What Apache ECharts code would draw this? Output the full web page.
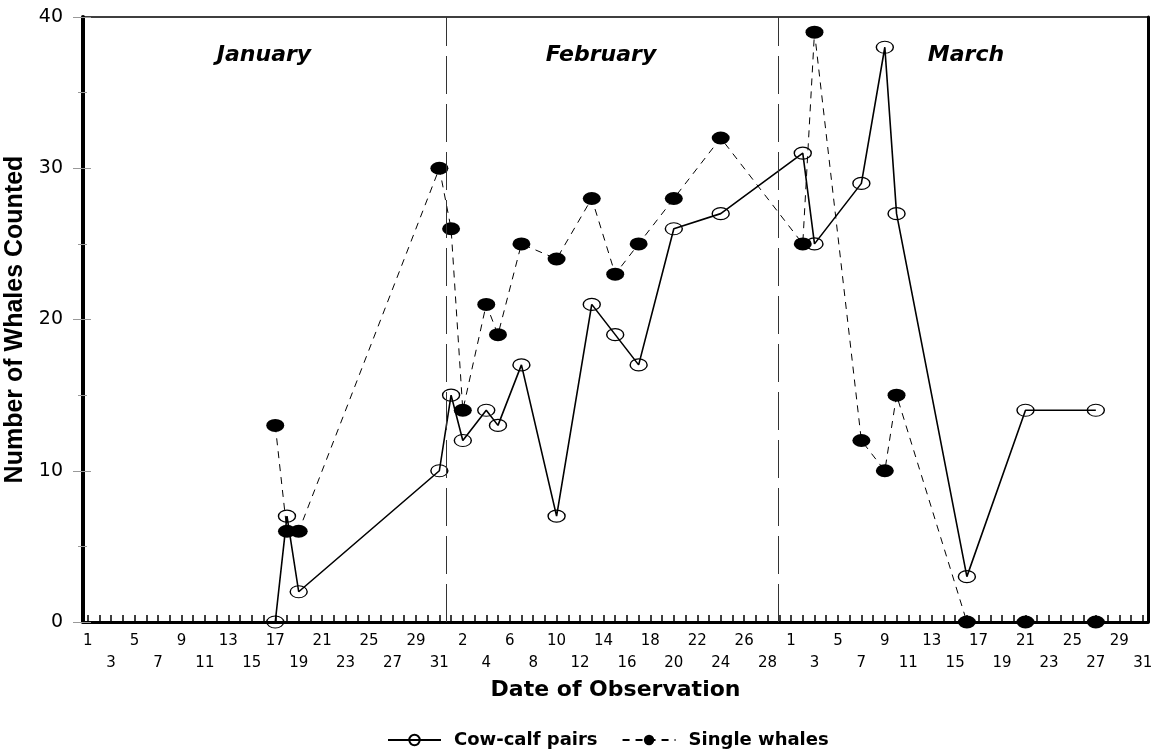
<!DOCTYPE html>
<html>
<head>
<meta charset="utf-8">
<script src="https://cdn.jsdelivr.net/npm/echarts@6/dist/echarts.min.js"></script>
<style>
html,body{margin:0;padding:0;background:#fff;}
#chart{width:1154px;height:752px;}
</style>
</head>
<body>
<div id="chart"></div>
<script>
// ---- data ----
const monthNames = ['January', 'February', 'March'];
const monthAbbr = ['Jan', 'Feb', 'Mar'];
const monthLengths = [31, 29, 31];
const obsDates = ['Jan 17','Jan 18','Jan 19','Jan 31','Feb 1','Feb 2','Feb 4','Feb 5','Feb 7','Feb 10',
  'Feb 13','Feb 15','Feb 17','Feb 20','Feb 24','Mar 2','Mar 3','Mar 7','Mar 9','Mar 10','Mar 16','Mar 21','Mar 27'];
const cowCalf = [0,7,2,10,15,12,14,13,17,7,21,19,17,26,27,31,25,29,38,27,3,14,14];
const singleWhales = [13,6,6,30,26,14,21,19,25,24,28,23,25,28,32,25,39,12,10,15,0,0,0];
const monthDividers = [30.6, 58.9];

// ---- helpers ----
const monthStart = [];
let acc = 0;
for (let i = 0; i < monthLengths.length; i++) { monthStart.push(acc); acc += monthLengths[i]; }
const totalDays = acc; // 91
function dateToIndex(s) {
  const [m, d] = s.split(' ');
  return monthStart[monthAbbr.indexOf(m)] + parseInt(d, 10) - 1;
}
function indexToDay(idx) {
  for (let i = monthStart.length - 1; i >= 0; i--) {
    if (idx >= monthStart[i]) return idx - monthStart[i] + 1;
  }
  return idx + 1;
}
const tickVals = [];
for (let i = 0; i < totalDays; i++) tickVals.push(i);
const labelVals = tickVals.filter(v => v % 2 === 0);

const cowData = obsDates.map((d, i) => [dateToIndex(d), cowCalf[i]]);
const singleData = obsDates.map((d, i) => [dateToIndex(d), singleWhales[i]]);

const ARIAL = "'Liberation Sans', Arial, sans-serif";
const WIDE = "'DejaVu Sans', 'Liberation Sans', Arial, sans-serif";
const chart = echarts.init(document.getElementById('chart'), null, {renderer: 'canvas'});

const monthCenters = [264, 601, 966];

const option = {
  backgroundColor: '#fff',
  animation: false,
  grid: {left: 83, right: 6, top: 17, bottom: 130, show: true, borderColor: '#000', borderWidth: 1.5,
    containLabel: false, outerBoundsMode: 'none'},
  xAxis: {
    type: 'value',
    min: -0.4,
    max: totalDays - 1 + 0.45,
    name: 'Date of Observation',
    nameLocation: 'middle',
    nameGap: 55,
    nameTextStyle: {fontFamily: WIDE, fontSize: 22, fontWeight: 'bold', color: '#000'},
    axisLine: {show: true, onZero: false, lineStyle: {color: '#000', width: 3}},
    axisTick: {show: true, inside: true, length: 7, customValues: tickVals, lineStyle: {color: '#000', width: 1.5}},
    axisLabel: {
      show: true, margin: 8, customValues: labelVals,
      fontFamily: WIDE, fontSize: 15, color: '#000', lineHeight: 22,
      formatter: function (v) {
        const day = indexToDay(Math.round(v));
        return (Math.round(v) % 4 === 2) ? '\n' + day : String(day);
      }
    },
    splitLine: {show: false}
  },
  yAxis: [
    {
      type: 'value', min: 0, max: 40, interval: 10, position: 'left', offset: 0,
      name: 'Number of Whales Counted',
      nameLocation: 'middle', nameGap: 48, nameRotate: 90,
      nameTextStyle: {fontFamily: ARIAL, fontSize: 25, fontWeight: 'bold', color: '#000'},
      axisLine: {show: true, onZero: false, lineStyle: {color: '#000', width: 4}},
      axisTick: {show: true, inside: false, length: 10, lineStyle: {color: '#999', width: 1}},
      minorTick: {show: true, splitNumber: 2, length: 5, lineStyle: {color: '#999', width: 1}},
      axisLabel: {fontFamily: WIDE, fontSize: 19, color: '#000', margin: 20},
      splitLine: {show: false}
    },
    {
      type: 'value', min: 0, max: 40, interval: 10, position: 'left', offset: 0,
      axisLine: {show: false, onZero: false},
      axisTick: {show: true, inside: true, length: 8, lineStyle: {color: '#999', width: 1}},
      minorTick: {show: true, splitNumber: 2, length: 4, lineStyle: {color: '#999', width: 1}},
      axisLabel: {show: false},
      splitLine: {show: false}
    },
    {
      type: 'value', min: 0, max: 40, position: 'right', offset: 0,
      axisLine: {show: true, onZero: false, lineStyle: {color: '#000', width: 3}},
      axisTick: {show: false}, axisLabel: {show: false}, splitLine: {show: false}
    }
  ],
  legend: {
    left: 382, top: 726,
    itemWidth: 53, itemHeight: 13, itemGap: 24,
    textStyle: {fontFamily: WIDE, fontSize: 18, fontWeight: 'bold', color: '#000', padding: [0, 0, 0, 8]},
    data: ['Cow-calf pairs', 'Single whales']
  },
  series: [
    {
      name: 'Cow-calf pairs',
      type: 'line',
      data: cowData,
      symbol: 'circle',
      symbolSize: [17, 12],
      showAllSymbol: true,
      lineStyle: {color: '#000', width: 1.6, type: 'solid'},
      itemStyle: {color: 'rgba(255,255,255,0)', borderColor: '#000', borderWidth: 1.2},
      z: 3,
      markLine: {
        silent: true,
        symbol: ['none', 'none'],
        label: {show: false},
        lineStyle: {color: '#333', width: 1, type: [38, 10]},
        data: monthDividers.map(v => ({xAxis: v}))
      }
    },
    {
      name: 'Single whales',
      type: 'line',
      data: singleData,
      symbol: 'circle',
      symbolSize: [18, 13],
      showAllSymbol: true,
      lineStyle: {color: '#000', width: 1, type: [7, 6]},
      itemStyle: {color: '#000', borderColor: '#000', borderWidth: 0},
      z: 4
    }
  ],
  graphic: monthNames.map((m, i) => ({
    type: 'text', x: monthCenters[i], y: 55,
    style: {text: m, font: "italic bold 22px 'DejaVu Sans', 'Liberation Sans', Arial, sans-serif",
      fill: '#000', align: 'center', verticalAlign: 'middle'}
  }))
};
chart.setOption(option);
</script>
</body>
</html>
